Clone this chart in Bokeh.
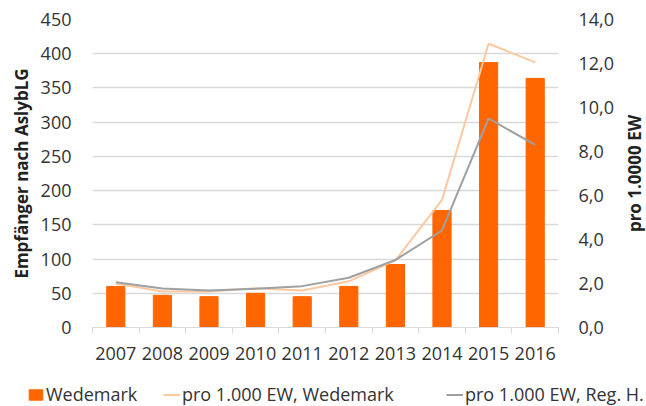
import math
from bokeh.plotting import figure
from bokeh.layouts import row, column
from bokeh.models import (Range1d, LinearAxis, FixedTicker, Legend, LegendItem, Label)
from bokeh.embed import file_html
from bokeh.resources import INLINE

# ---- data ----
years = [2007, 2008, 2009, 2010, 2011, 2012, 2013, 2014, 2015, 2016]
empfaenger_wedemark = [60, 47, 45, 50, 45, 60, 92, 171, 387, 364]
pro1000_wedemark = [2.0, 1.64, 1.64, 1.78, 1.68, 2.1, 3.05, 5.8, 12.9, 12.05]
pro1000_region = [2.06, 1.77, 1.68, 1.76, 1.88, 2.26, 3.07, 4.41, 9.5, 8.3]
left_ticks = [0, 50, 100, 150, 200, 250, 300, 350, 400, 450]
right_ticks = [0, 2, 4, 6, 8, 10, 12, 14]
right_labels = ["0,0", "2,0", "4,0", "6,0", "8,0", "10,0", "12,0", "14,0"]

FONT = "Open Sans"
TXT = "#333333"
GRID = "#D9D9D9"
BAR = "#FF6600"
LINE_W = "#FBC8A0"
LINE_R = "#A0A0A0"

# ---------------- main chart ----------------
p = figure(width=620, height=372, output_backend="svg", toolbar_location=None,
           x_range=Range1d(years[0] - 0.5, years[-1] + 0.5),
           y_range=Range1d(0, 450),
           min_border_left=92, min_border_right=62,
           min_border_top=19, min_border_bottom=45)
p.outline_line_color = None
p.xgrid.visible = False
p.ygrid.ticker = FixedTicker(ticks=left_ticks)
p.ygrid.grid_line_color = GRID
p.ygrid.grid_line_width = 1.3

p.extra_y_ranges = {"r": Range1d(0, 14)}

bars = p.vbar(x=years, top=empfaenger_wedemark, width=0.39,
              fill_color=BAR, line_color=BAR)
l1 = p.line(x=years, y=pro1000_wedemark, y_range_name="r",
            line_color=LINE_W, line_width=2)
l2 = p.line(x=years, y=pro1000_region, y_range_name="r",
            line_color=LINE_R, line_width=2)

xa = p.xaxis[0]
xa.ticker = FixedTicker(ticks=years, minor_ticks=[y - 0.5 for y in years] + [years[-1] + 0.5])
xa.major_label_overrides = {y: str(y) for y in years}
xa.major_tick_line_color = None
xa.major_tick_out = 0
xa.major_tick_in = 0
xa.minor_tick_line_color = GRID
xa.minor_tick_out = 6
xa.minor_tick_in = 0
xa.axis_line_color = GRID
xa.major_label_standoff = 13
xa.major_label_text_font = FONT
xa.major_label_text_font_size = "18px"
xa.major_label_text_color = TXT

ya = p.yaxis[0]
ya.ticker = FixedTicker(ticks=left_ticks)
ya.axis_line_color = None
ya.major_tick_line_color = None
ya.minor_tick_line_color = None
ya.major_tick_out = 0
ya.major_label_standoff = 21
ya.major_label_text_font = FONT
ya.major_label_text_font_size = "18px"
ya.major_label_text_color = TXT
ya.axis_label = "Empfänger nach AslybLG"
ya.axis_label_text_font = FONT
ya.axis_label_text_font_size = "17px"
ya.axis_label_text_font_style = "bold"
ya.axis_label_text_color = "#222222"
ya.axis_label_standoff = 5

ra = LinearAxis(y_range_name="r", ticker=FixedTicker(ticks=right_ticks),
                major_label_overrides=dict(zip(right_ticks, right_labels)))
ra.axis_line_color = None
ra.major_tick_line_color = None
ra.minor_tick_line_color = None
ra.major_tick_out = 0
ra.major_label_standoff = 20
ra.major_label_text_font = FONT
ra.major_label_text_font_size = "18px"
ra.major_label_text_color = TXT
p.add_layout(ra, "right")

# ---------------- right axis title strip ----------------
t = figure(width=26, height=372, output_backend="svg", toolbar_location=None,
           x_range=Range1d(0, 1), y_range=Range1d(0, 1),
           x_axis_location=None, y_axis_location=None,
           min_border=0)
t.outline_line_color = None
t.grid.visible = False
t.add_layout(Label(x=14, y=154, x_units="screen", y_units="screen",
                   text="pro 1.0000 EW", angle=math.pi / 2,
                   text_align="center", text_baseline="middle",
                   text_font=FONT, text_font_size="17px",
                   text_font_style="bold", text_color="#222222"))

# ---------------- legend strip ----------------
lg = figure(width=646, height=34, output_backend="svg", toolbar_location=None,
            x_range=Range1d(0, 1), y_range=Range1d(0, 1),
            x_axis_location=None, y_axis_location=None,
            min_border=0)
lg.outline_line_color = None
lg.grid.visible = False
# key renderers kept outside the visible range (only their legend glyphs show)
kb = lg.vbar(x=[5], top=[5], bottom=[4], width=0.4, fill_color=BAR, line_color=BAR)
k1 = lg.line(x=[5, 6], y=[5, 5], line_color=LINE_W, line_width=2)
k2 = lg.line(x=[5, 6], y=[5, 5], line_color=LINE_R, line_width=2)

def add_entry(label, rend, x):
    lg.add_layout(Legend(items=[LegendItem(label=label, renderers=[rend])],
                         location=(x, 0), orientation="horizontal",
                         padding=0, margin=0, spacing=0,
                         border_line_color=None, background_fill_alpha=0,
                         label_text_font=FONT, label_text_font_size="18px",
                         label_text_color=TXT, glyph_width=17, glyph_height=13,
                         label_standoff=2, label_height=20))

add_entry("Wedemark", kb, 27)
add_entry("pro 1.000 EW, Wedemark", k1, 163)
add_entry("pro 1.000 EW, Reg. H.", k2, 446)

layout = column(row(p, t), lg)
open("out.html", "w").write(file_html(layout, INLINE))
